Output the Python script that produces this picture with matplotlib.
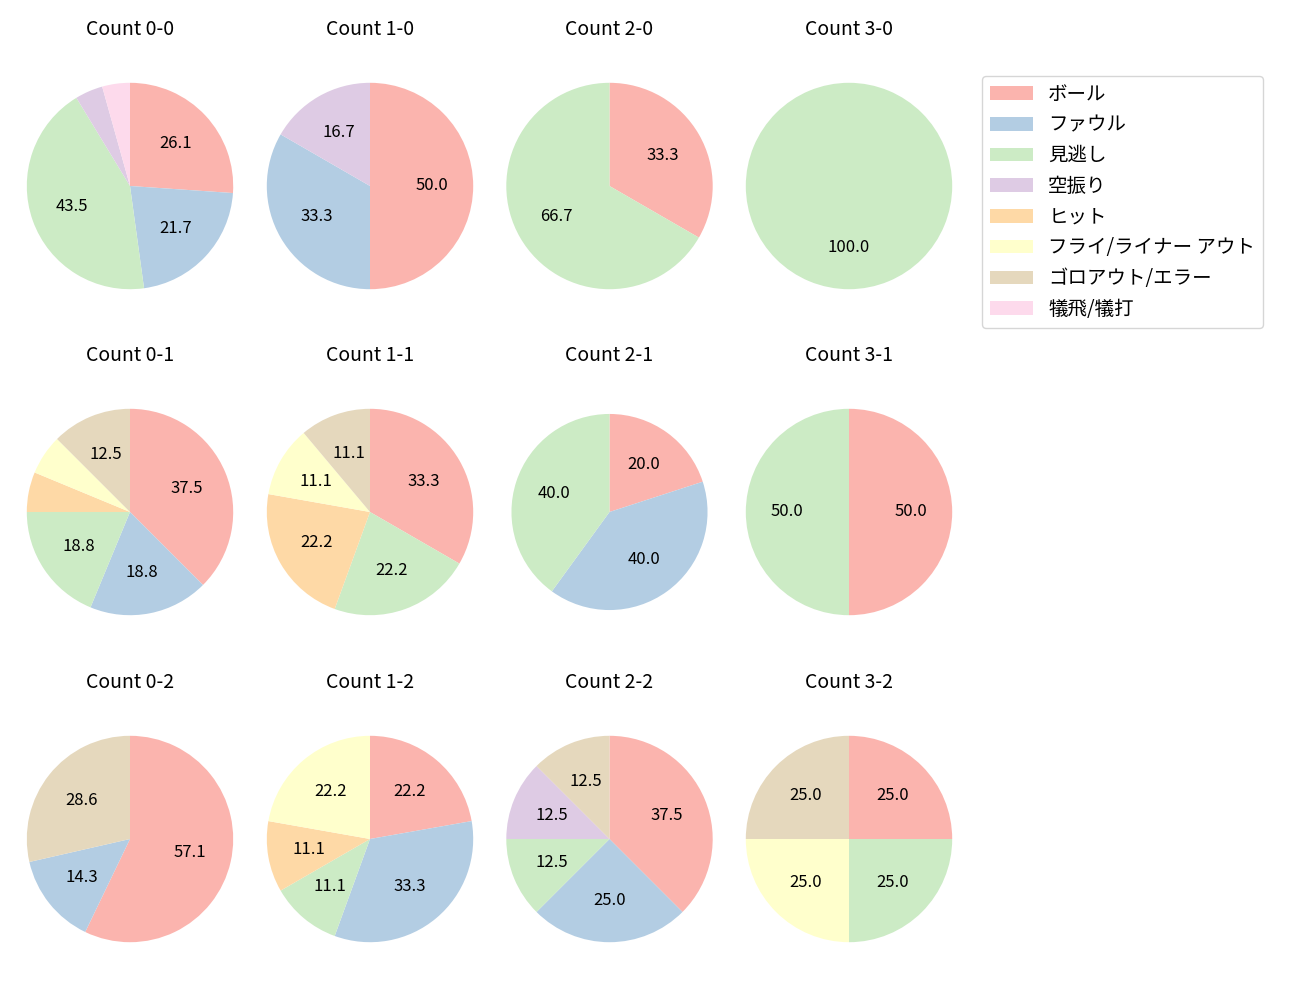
import numpy as np
import matplotlib.pyplot as plt
from matplotlib.patches import Patch

plt.rcParams['font.family'] = ['Noto Sans CJK JP', 'DejaVu Sans']

# Categories (legend order)
categories = ['ボール', 'ファウル', '見逃し', '空振り', 'ヒット',
              'フライ/ライナー アウト', 'ゴロアウト/エラー', '犠飛/犠打']

# Pitch counts per category for each ball-strike count
counts = {
    '0-0': [6, 5, 10, 1, 0, 0, 0, 1],
    '1-0': [3, 2, 0, 1, 0, 0, 0, 0],
    '2-0': [1, 0, 2, 0, 0, 0, 0, 0],
    '3-0': [0, 0, 1, 0, 0, 0, 0, 0],
    '0-1': [6, 3, 3, 0, 1, 1, 2, 0],
    '1-1': [3, 0, 2, 0, 2, 1, 1, 0],
    '2-1': [1, 2, 2, 0, 0, 0, 0, 0],
    '3-1': [1, 0, 1, 0, 0, 0, 0, 0],
    '0-2': [4, 1, 0, 0, 0, 0, 2, 0],
    '1-2': [2, 3, 1, 0, 1, 2, 0, 0],
    '2-2': [3, 2, 1, 1, 0, 0, 1, 0],
    '3-2': [1, 0, 1, 0, 0, 1, 1, 0],
}

colors = plt.cm.Pastel1(np.arange(len(categories)))

col_x = [130, 370, 609.5, 849]
row_y = [186, 512, 839]
W, H = 1300, 1000
size = 258

fig = plt.figure(figsize=(13, 10), dpi=100)

for r, strikes in enumerate([0, 1, 2]):
    for c, balls in enumerate([0, 1, 2, 3]):
        key = f'{balls}-{strikes}'
        vals = np.array(counts[key], dtype=float)
        ax = fig.add_axes([(col_x[c] - size / 2) / W, 1 - (row_y[r] + size / 2) / H,
                           size / W, size / H])
        mask = vals > 0
        ax.pie(vals[mask], colors=colors[mask], startangle=90, counterclock=False,
               radius=0.95 if key == '2-1' else 1.0,
               autopct=lambda p: f'{p:.1f}' if p >= 10 else '',
               textprops={'fontsize': 12})
        ax.set_title(f'Count {key}', fontsize=14, pad=16)

handles = [Patch(facecolor=colors[i], label=categories[i]) for i in range(len(categories))]
fig.legend(handles=handles, loc='upper left', bbox_to_anchor=(982 / W, 1 - 76 / H),
           fontsize=14, handlelength=2.2, borderaxespad=0)

fig.savefig('out.png', dpi=100)
